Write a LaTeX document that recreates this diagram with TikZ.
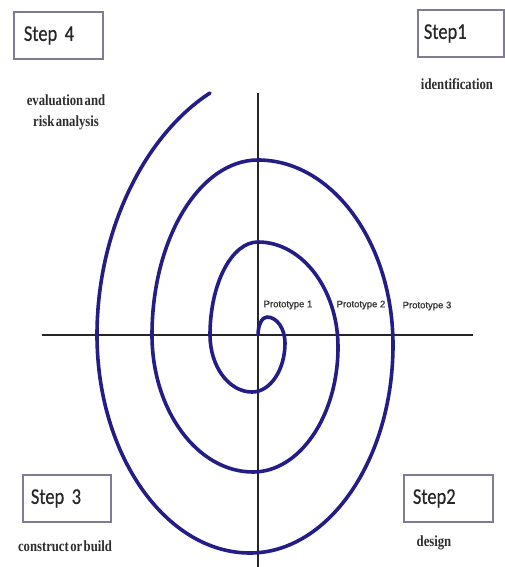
\documentclass[tikz,border=0pt]{standalone}
\usepackage{fontspec}
\setmainfont{Liberation Serif}
\newfontfamily\stepfont[FakeStretch=0.82,FakeBold=0.4]{Carlito}
\newfontfamily\descfont[FakeStretch=0.82,WordSpace=0.45]{Liberation Serif}
\newfontfamily\protofont[FakeBold=0.6]{Liberation Sans}
\definecolor{spiralblue}{RGB}{36,28,135}
\definecolor{boxedge}{RGB}{128,122,150}
\definecolor{desctext}{RGB}{45,45,45}
\begin{document}
\begin{tikzpicture}[x=1pt,y=-1pt,
  stepbox/.style={draw=boxedge, line width=1.8pt, fill=white, anchor=north west,
     align=left, minimum height=47pt, font=\stepfont\fontsize{22.5}{24}\selectfont, text=black!85},
  desc/.style={font=\descfont\bfseries\fontsize{15.5}{21}\selectfont, text=desctext, align=center},
  proto/.style={font=\protofont\fontsize{9.5}{11}\selectfont, text=black!80},
  axis/.style={line width=1.8pt, black!85},
  spiral/.style={line width=3.6pt, spiralblue, line cap=round, line join=round}]
\useasboundingbox (0,0) rectangle (505,567);
% axes
\coordinate (hl) at (42,335);
\coordinate (hr) at (473,335);
\coordinate (vt) at (258,93);
\coordinate (vb) at (258,567);
\draw[axis] (hl) -- (hr);
\draw[axis] (vt) -- (vb);
% spiral
\draw[spiral] (258,335)
  .. controls (258,325.1) and (262.05,317) .. (267,317)
  .. controls (276.9,317) and (285,328.7) .. (285,343)
  .. controls (285,370) and (270.2,392) .. (252,392)
  .. controls (228.9,392) and (210,366.4) .. (210,335)
  .. controls (210,283.9) and (231.6,242) .. (258,242)
  .. controls (302,242) and (338,289.25) .. (338,347)
  .. controls (338,415.75) and (299.75,472) .. (253,472)
  .. controls (197.45,472) and (152,410.35) .. (152,335)
  .. controls (152,238.75) and (199.7,160) .. (258,160)
  .. controls (332.25,160) and (393,243.25) .. (393,345)
  .. controls (393,459.4) and (328.65,553) .. (250,553)
  .. controls (165.85,553) and (97,454.9) .. (97,335)
  .. controls (97,230) and (145,135) .. (210,93);
% step boxes
\node[stepbox, text width=69pt, inner xsep=10pt, minimum width=89pt] (s4) at (13,11) {Step 4};
\node[stepbox, text width=74pt, inner xsep=6pt, minimum width=86pt] (s1) at (417,9) {Step1};
\node[stepbox, text width=72pt, inner xsep=8pt, minimum width=88pt] (s3) at (22,474) {Step 3};
\node[stepbox, text width=71pt, inner xsep=9pt, minimum width=89pt] (s2) at (403,474) {Step2};
% descriptions
\node[desc] (d4) at (66,112) {evaluation and\\risk analysis};
\node[desc] (d1) at (457,84) {identification};
\node[desc] (d3) at (65,546) {construct or build};
\node[desc] (d2) at (434,543) {design};
% prototypes
\node[proto] (p1) at (288,305) {Prototype 1};
\node[proto] (p2) at (361,305) {Prototype 2};
\node[proto] (p3) at (427,306) {Prototype 3};
\end{tikzpicture}
\end{document}
